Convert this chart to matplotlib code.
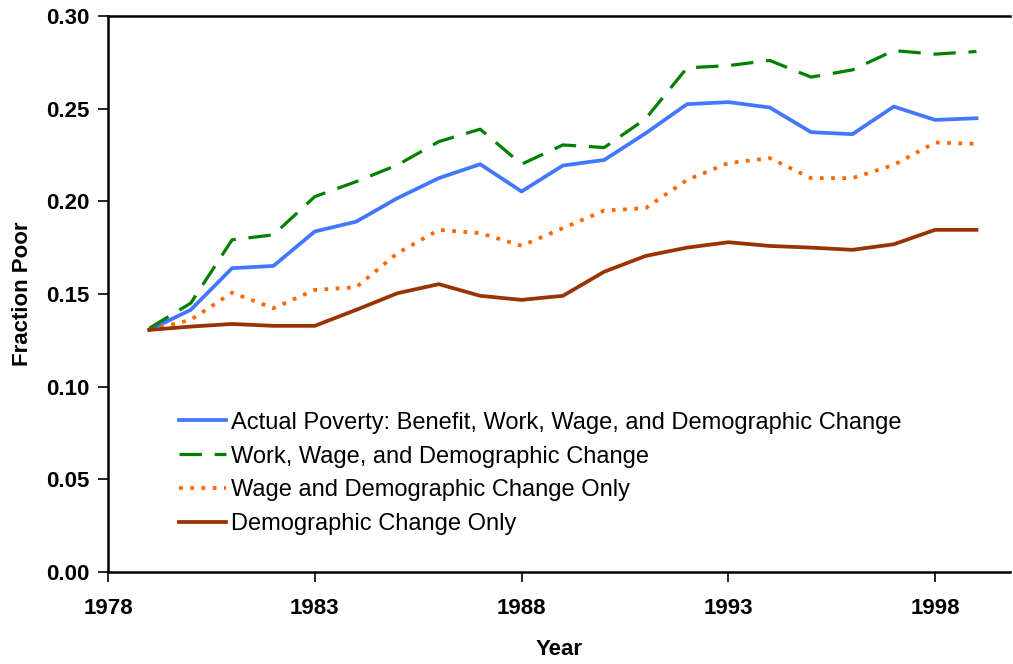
import numpy as np
import matplotlib.pyplot as plt

plt.rcParams['font.family'] = ['Liberation Sans', 'DejaVu Sans']

years = list(range(1979, 2000))

actual = [0.1306, 0.1414, 0.1639, 0.1651, 0.1837, 0.1890, 0.2017, 0.2125, 0.2200, 0.2053,
          0.2193, 0.2223, 0.2367, 0.2524, 0.2535, 0.2506, 0.2373, 0.2362, 0.2511, 0.2439, 0.2448]
work_wage_demo = [0.1315, 0.1450, 0.1792, 0.1819, 0.2025, 0.2106, 0.2196, 0.2322, 0.2389, 0.2200,
                  0.2304, 0.2290, 0.2445, 0.2720, 0.2732, 0.2760, 0.2670, 0.2709, 0.2813, 0.2794, 0.2808]
wage_demo = [0.1306, 0.1360, 0.1507, 0.1423, 0.1522, 0.1536, 0.1720, 0.1846, 0.1828, 0.1760,
             0.1855, 0.1950, 0.1963, 0.2115, 0.2206, 0.2233, 0.2125, 0.2125, 0.2196, 0.2317, 0.2310]
demo_only = [0.1306, 0.1324, 0.1338, 0.1328, 0.1328, 0.1414, 0.1504, 0.1553, 0.1490, 0.1468,
             0.1490, 0.1620, 0.1705, 0.1750, 0.1779, 0.1759, 0.1750, 0.1738, 0.1768, 0.1846, 0.1846]

labels = ["Actual Poverty: Benefit, Work, Wage, and Demographic Change",
          "Work, Wage, and Demographic Change",
          "Wage and Demographic Change Only",
          "Demographic Change Only"]

xticks = [1978, 1983, 1988, 1993, 1998]
yticks = [0.00, 0.05, 0.10, 0.15, 0.20, 0.25, 0.30]

fig = plt.figure(figsize=(10.13, 6.64), dpi=100)
ax = fig.add_axes([0.1066, 0.1386, 0.89, 0.8374])

ax.plot(years, actual, color='#4477FF', lw=2.7, label=labels[0])
ax.plot(years, work_wage_demo, color='#008000', lw=2.3, ls=(0, (7, 4)), label=labels[1])
ax.plot(years, wage_demo, color='#FF6600', lw=2.7, ls=(0, (1, 2)), label=labels[2])
ax.plot(years, demo_only, color='#993300', lw=2.7, label=labels[3])

ax.set_xlim(1978, 1999.8)
ax.set_ylim(0, 0.30)
ax.set_xticks(xticks)
ax.set_yticks(yticks)
ax.set_yticklabels([f"{v:.2f}" for v in yticks])

for lab in ax.get_xticklabels() + ax.get_yticklabels():
    lab.set_fontweight('bold')
    lab.set_fontsize(16)

ax.tick_params(axis='x', direction='out', length=7, width=1.2, pad=12)
ax.tick_params(axis='y', direction='out', length=7, width=1.2, pad=6)

ax.spines['right'].set_visible(False)
for s in ['left', 'bottom', 'top']:
    ax.spines[s].set_linewidth(1.8)
    ax.spines[s].set_color('black')

ax.set_xlabel("Year", fontsize=16, fontweight='bold', labelpad=14)
ax.set_ylabel("Fraction Poor", fontsize=16, fontweight='bold', labelpad=10)

ax.legend(loc='lower left', bbox_to_anchor=(0.055, 0.028), frameon=False, fontsize=17,
          handlelength=2.0, handletextpad=0.2, labelspacing=0.5)

fig.savefig("out.png", dpi=100)
